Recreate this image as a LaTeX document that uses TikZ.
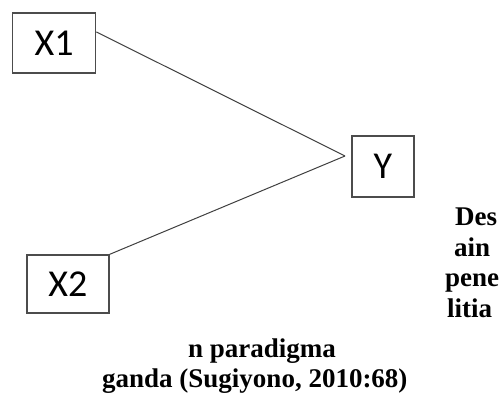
\documentclass[tikz,border=0pt]{standalone}
\usepackage{fontspec}
\setmainfont{Liberation Serif}
\newfontfamily\varfont{Carlito}
\usetikzlibrary{positioning}

\tikzset{
  var/.style={draw=black!70, line width=1.2pt, inner sep=0pt,
    font=\varfont\fontsize{38}{40}\selectfont},
  link/.style={draw=black!75, line width=1pt},
  cut/.style={inner sep=0pt, anchor=base west,
    font=\bfseries\fontsize{27}{31}\selectfont},
}

\begin{document}
\begin{tikzpicture}[x=1pt, y=-1pt]
  \useasboundingbox[fill=white] (0,0) rectangle (501,397);
  % Define nodes
  \node[var, minimum width=83pt, minimum height=60pt] (X1) at (54.2,42.9) {X1}; %
  \node[var, minimum width=82pt, minimum height=58pt] (X2) at (67.9,284) {X2}; %
  \node[var, minimum width=62pt, minimum height=61pt] (Y) at (383,166.5) {Y};
  \coordinate (join) at (345,156);
  \draw[link] ([yshift=11pt]X1.east) -- (join);
  \draw[link] (X2.north east) -- (join);
  % cut-off caption text
  \node[cut] (des) at (455,225) {Des};
  \node[cut] (ain) at (454,256) {ain};
  \node[cut] (pene) at (445,286) {pene};
  \node[cut] (litia) at (447,317) {litia};
  \node[cut] (para) at (188,357) {n paradigma};
  \node[cut] (ganda) at (102,387) {ganda (Sugiyono, 2010:68)};
\end{tikzpicture}
\end{document}
